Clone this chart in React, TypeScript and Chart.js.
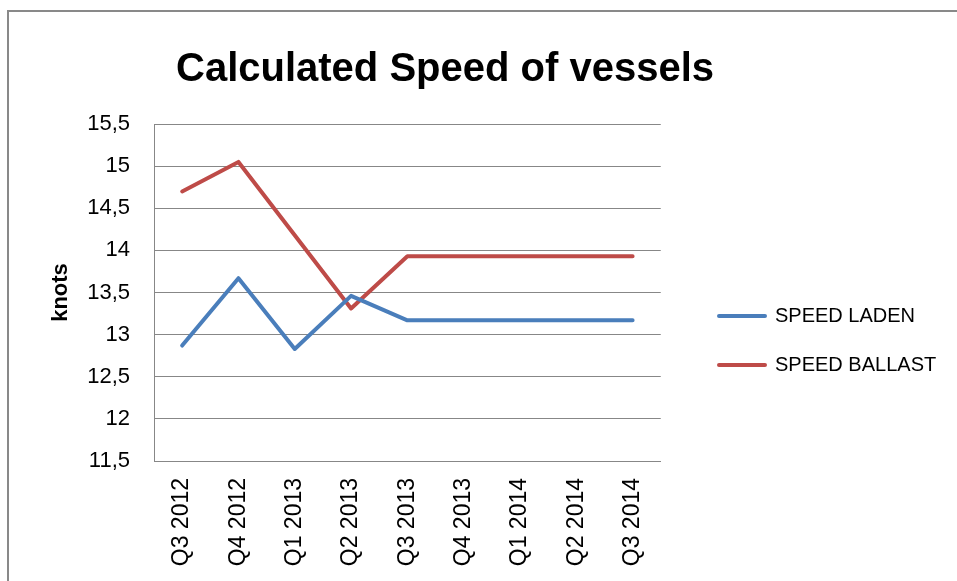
import React, { useEffect, useRef } from "react";
import { Chart, registerables } from "chart.js";

Chart.register(...registerables);

const categories = [
  "Q3 2012",
  "Q4 2012",
  "Q1 2013",
  "Q2 2013",
  "Q3 2013",
  "Q4 2013",
  "Q1 2014",
  "Q2 2014",
  "Q3 2014",
];
const speedLaden = [12.87, 13.67, 12.83, 13.46, 13.17, 13.17, 13.17, 13.17, 13.17];
const speedBallast = [14.7, 15.05, 14.18, 13.31, 13.93, 13.93, 13.93, 13.93, 13.93];
const seriesNames = ["SPEED LADEN", "SPEED BALLAST"];
const titleText = "Calculated Speed of vessels";
const yAxisTitle = "knots";
const yMin = 11.5;
const yMax = 15.5;
const yStep = 0.5;

const FONT = "'Liberation Sans', Arial, sans-serif";
const GRID = "#878787";

const placement = {
  id: "placement",
  afterLayout(chart: any) {
    const t = chart.titleBlock;
    if (t) {
      t.left = 0;
      t.right = 890;
    }
    const lg = chart.legend;
    if (lg) {
      lg.left = 690;
      lg.right = 957;
      lg.top = 200;
      lg.bottom = 481;
    }
  },
};

export default function App() {
  const ref = useRef<HTMLCanvasElement | null>(null);

  useEffect(() => {
    if (!ref.current) return;
    const chart = new Chart(ref.current, {
      type: "line",
      data: {
        labels: categories,
        datasets: [
          {
            label: seriesNames[0],
            data: speedLaden,
            borderColor: "#4A7EBB",
            backgroundColor: "#4A7EBB",
            borderWidth: 4,
            pointRadius: 0,
            tension: 0,
            borderCapStyle: "round",
            borderJoinStyle: "round",
          },
          {
            label: seriesNames[1],
            data: speedBallast,
            borderColor: "#BE4B48",
            backgroundColor: "#BE4B48",
            borderWidth: 4,
            pointRadius: 0,
            tension: 0,
            borderCapStyle: "round",
            borderJoinStyle: "round",
          },
        ],
      },
      options: {
        animation: false,
        responsive: false,
        devicePixelRatio: 1,
        layout: { padding: { left: 0, right: 76, top: 0, bottom: 0 } },
        plugins: {
          title: {
            display: true,
            text: titleText,
            color: "#000",
            font: { family: FONT, size: 40, weight: "bold" },
            padding: { top: 46, bottom: 30 },
          },
          legend: {
            display: true,
            position: "right",
            labels: {
              color: "#000",
              font: { family: FONT, size: 20 },
              boxWidth: 46,
              boxHeight: 0,
              padding: 29,
            },
          },
          tooltip: { enabled: false },
        },
        scales: {
          x: {
            type: "category",
            offset: true,
            grid: { display: false, drawTicks: false },
            border: { display: true, color: GRID, width: 1 },
            ticks: {
              color: "#000",
              font: { family: FONT, size: 23 },
              padding: 17,
              minRotation: 90,
              maxRotation: 90,
              autoSkip: false,
            },
            afterFit(scale: any) {
              scale.height = 120;
            },
          },
          y: {
            min: yMin,
            max: yMax,
            grid: { color: GRID, drawTicks: false, lineWidth: 1 },
            border: { display: true, color: GRID, width: 1 },
            ticks: {
              stepSize: yStep,
              color: "#000",
              font: { family: FONT, size: 22 },
              padding: 24,
              callback: (v: any) => String(Math.round(Number(v) * 10) / 10).replace(".", ","),
            },
            title: {
              display: true,
              text: yAxisTitle,
              color: "#000",
              font: { family: FONT, size: 22, weight: "bold" },
              padding: { top: 48, bottom: 0 },
            },
            afterFit(scale: any) {
              scale.width = 154;
            },
          },
        },
      },
      plugins: [placement],
    });
    return () => chart.destroy();
  }, []);

  return (
    <div
      style={{
        position: "fixed",
        left: 0,
        top: 0,
        width: 957,
        height: 581,
        overflow: "hidden",
        background: "#fff",
      }}
    >
      <div
        style={{
          position: "absolute",
          left: 7,
          top: 10,
          width: 1200,
          height: 800,
          borderLeft: "2px solid #898989",
          borderTop: "2px solid #898989",
        }}
      />
      <canvas
        ref={ref}
        width={957}
        height={581}
        style={{ position: "absolute", left: 0, top: 0, display: "block" }}
      />
    </div>
  );
}
